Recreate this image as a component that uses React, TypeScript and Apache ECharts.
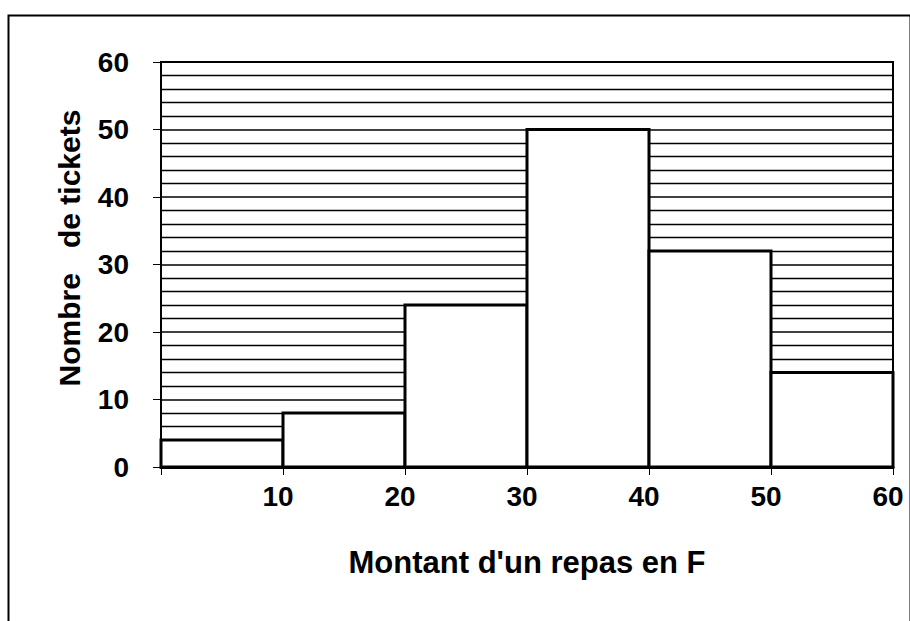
import React, { useEffect, useRef } from "react";
import * as echarts from "echarts";

const binStarts = [0, 10, 20, 30, 40, 50];
const binEnds = [10, 20, 30, 40, 50, 60];
const counts = [4, 8, 24, 50, 32, 14];
const xTitle = "Montant d'un repas en F";
const yTitle = "Nombre   de tickets";

const FONT = "'Liberation Sans', Arial, sans-serif";

export default function App() {
  const ref = useRef<HTMLDivElement>(null);
  useEffect(() => {
    if (!ref.current) return;
    const chart = echarts.init(ref.current, undefined, { renderer: "svg" });
    const data = binStarts.map((s, i) => [s, binEnds[i], counts[i]]);
    chart.setOption({
      animation: false,
      backgroundColor: "#fff",
      grid: {
        left: 161,
        right: 17,
        top: 62,
        bottom: 154,
        show: true,
        borderColor: "#000",
        borderWidth: 2,
      },
      xAxis: {
        type: "value",
        min: 0,
        max: 60,
        interval: 10,
        name: xTitle,
        nameLocation: "middle",
        nameGap: 80,
        nameTextStyle: { fontFamily: FONT, fontWeight: "bold", fontSize: 31, color: "#000" },
        axisLine: { show: true, lineStyle: { color: "#000", width: 3 } },
        axisTick: { show: true, length: 8, lineStyle: { color: "#000", width: 1 } },
        axisLabel: {
          fontFamily: FONT,
          fontWeight: "bold",
          fontSize: 28,
          color: "#000",
          margin: 15,
          padding: [0, 10, 0, 0],
          formatter: (v: number) => (v === 0 ? "" : String(v)),
        },
        splitLine: { show: false },
      },
      yAxis: {
        type: "value",
        min: 0,
        max: 60,
        interval: 10,
        axisLine: { show: true, lineStyle: { color: "#000", width: 2 } },
        axisTick: { show: true, length: 8, lineStyle: { color: "#000", width: 1 } },
        axisLabel: { fontFamily: FONT, fontWeight: "bold", fontSize: 28, color: "#000", margin: 32 },
        splitLine: { show: true, lineStyle: { color: "#000", width: 1.5 } },
        minorTick: { show: false, splitNumber: 5 },
        minorSplitLine: { show: true, lineStyle: { color: "#000", width: 1.3 } },
      },
      series: [
        {
          type: "custom",
          data,
          encode: { x: [0, 1], y: 2 },
          renderItem: (params: any, api: any) => {
            const p0 = api.coord([api.value(0), api.value(2)]);
            const p1 = api.coord([api.value(1), 0]);
            return {
              type: "rect",
              shape: { x: p0[0], y: p0[1], width: p1[0] - p0[0], height: p1[1] - p0[1] },
              style: { fill: "#fff", stroke: "#000", lineWidth: 3 },
            };
          },
        },
      ],
      graphic: [
        {
          type: "rect",
          left: 6,
          top: 13,
          shape: { x: 0, y: 0, width: 902, height: 640 },
          style: { fill: "none", stroke: "#000", lineWidth: 2 },
          silent: true,
        },
        {
          type: "text",
          x: 69,
          y: 248,
          rotation: Math.PI / 2,
          silent: true,
          style: {
            text: yTitle,
            fontFamily: FONT,
            fontWeight: "bold",
            fontSize: 30,
            fill: "#000",
            align: "center",
            verticalAlign: "middle",
          },
        },
      ],
    });
    return () => chart.dispose();
  }, []);
  return (
    <div
      ref={ref}
      style={{ position: "absolute", left: 0, top: 0, width: 910, height: 621 }}
    />
  );
}
